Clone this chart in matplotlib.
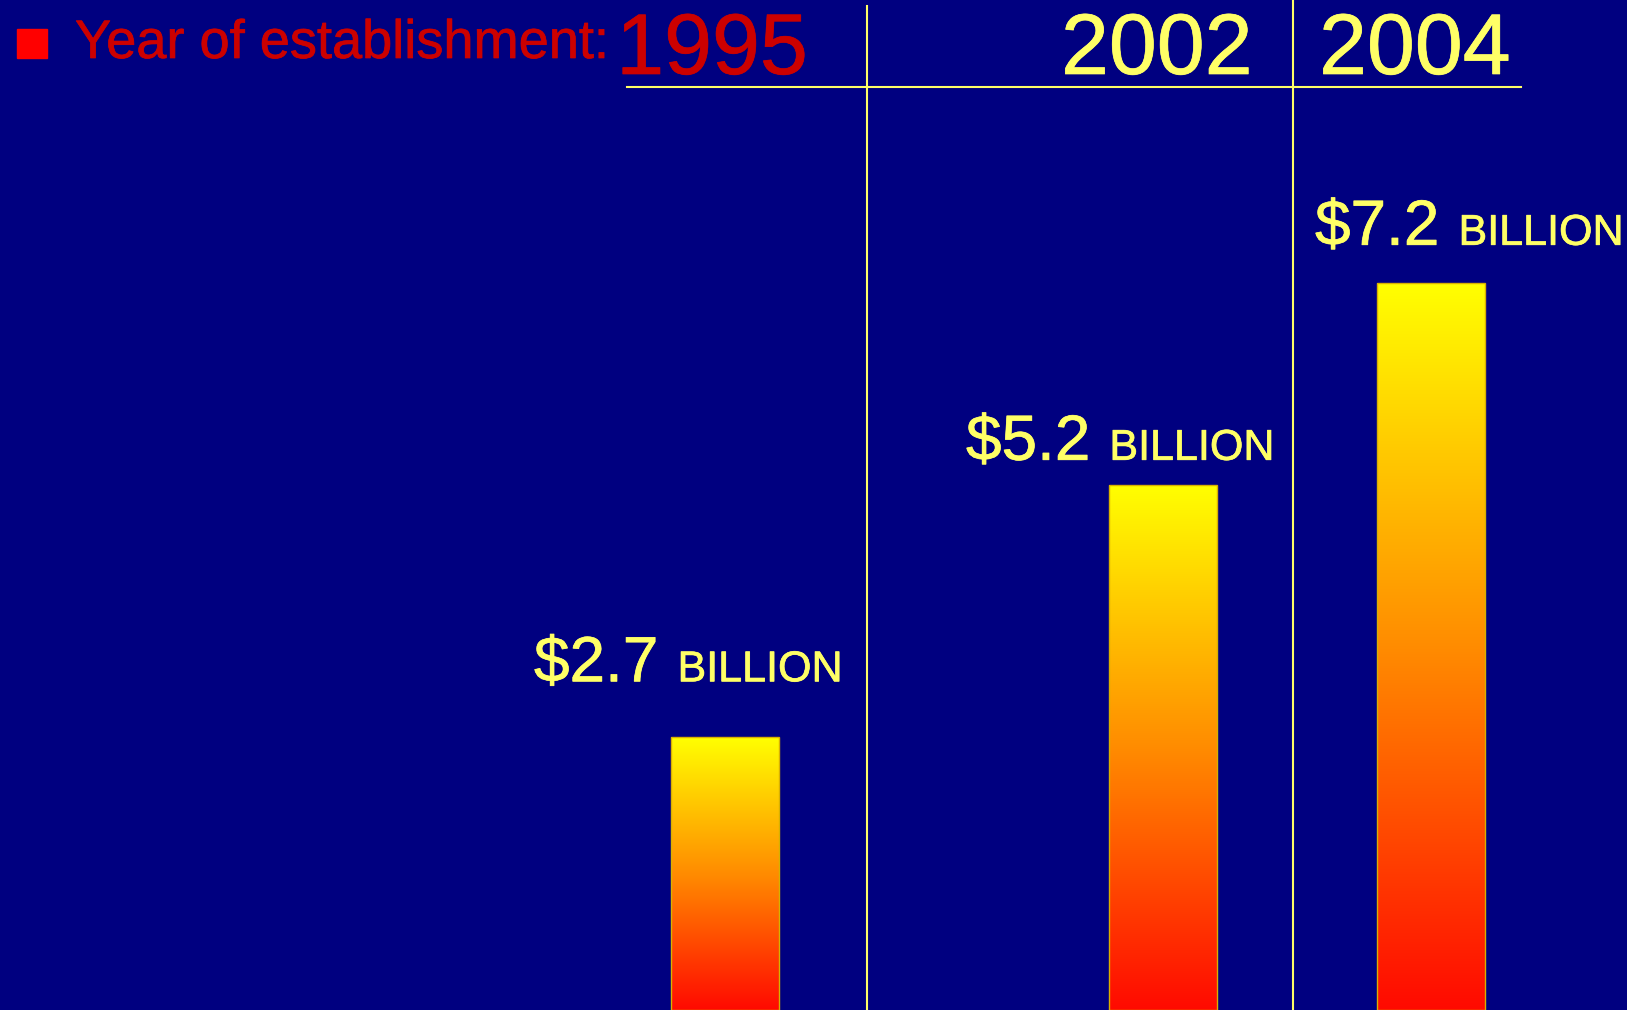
import numpy as np
import matplotlib.pyplot as plt
import matplotlib.patheffects as pe
from matplotlib.colors import LinearSegmentedColormap
from matplotlib.patches import Rectangle
from matplotlib.lines import Line2D

# funding per period, in billions of dollars
years = ["1995", "2002", "2004"]
amounts = [2.7, 5.2, 7.2]
amount_labels = ["$2.7", "$5.2", "$7.2"]
unit_label = "BILLION"
heading = "Year of establishment:"

W, H = 1627, 1010
navy = "#000080"
pale_yellow = "#FFFF66"
dark_red = "#CC0000"

# layout (pixel units, measured from the top-left corner)
bar_centers = [725, 1163.5, 1431]
bar_width = 108
label_x = [534, 966, 1315]
label_gap = [56, 25, 38]
year_x = [712, 1157, 1415]

plt.rcParams['font.family'] = ['Liberation Sans', 'DejaVu Sans']


def heavy(c):
    return [pe.withStroke(linewidth=0.5, foreground=c)]


fig = plt.figure(figsize=(W / 100, H / 100), dpi=100)
fig.patch.set_facecolor(navy)
ax = fig.add_axes([0, 0, 1, 1])
ax.set_facecolor(navy)
ax.axis("off")

ymax = 10.0
px_per_unit = H / ymax

grad = LinearSegmentedColormap.from_list(
    "fire", [(0, "#FF0A00"), (0.5, "#FF8C00"), (1, "#FFFF00")])

for xc, v in zip(bar_centers, amounts):
    x0 = xc - bar_width / 2
    rect = Rectangle((x0, 0), bar_width, v, facecolor="none",
                     edgecolor="#D8B000", linewidth=1, zorder=3)
    ax.add_patch(rect)
    img = ax.imshow(np.linspace(0, 1, 256).reshape(-1, 1), cmap=grad,
                    origin="lower", aspect="auto",
                    extent=[x0, x0 + bar_width, 0, v], zorder=2)
    img.set_clip_path(rect)

ax.set_xlim(0, W)
ax.set_ylim(0, ymax)

# value labels: large amount, smaller unit word beside it
big = []
for lx, v, gap, txt in zip(label_x, amounts, label_gap, amount_labels):
    y = v + gap / px_per_unit
    t = ax.text(lx, y, txt, fontsize=46, color=pale_yellow,
                ha="left", va="baseline", path_effects=heavy(pale_yellow))
    big.append((t, y))

fig.canvas.draw()
for t, y in big:
    bb = t.get_window_extent()
    ax.text(bb.x1 + 19, y, unit_label, fontsize=31, color=pale_yellow,
            ha="left", va="baseline", path_effects=heavy(pale_yellow))

# header row with the years
def fx(x):
    return x / W


def fy(y):
    return 1 - y / H


fig.add_artist(Rectangle((fx(17), fy(58)), 30 / W, 29 / H,
                         transform=fig.transFigure, color="#FF0000"))
fig.text(fx(75), fy(58), heading, fontsize=39, color=dark_red,
         ha="left", va="baseline", path_effects=heavy(dark_red))

year_colors = [dark_red, pale_yellow, pale_yellow]
for xc, yr, c in zip(year_x, years, year_colors):
    fig.text(fx(xc), fy(74), yr, fontsize=62, color=c,
             ha="center", va="baseline", path_effects=heavy(c))

fig.add_artist(Line2D([fx(627), fx(1521)], [fy(87), fy(87)],
                      transform=fig.transFigure, color=pale_yellow, lw=1.5))
fig.add_artist(Line2D([fx(867), fx(867)], [fy(6), 0],
                      transform=fig.transFigure, color=pale_yellow, lw=1.5))
fig.add_artist(Line2D([fx(1293), fx(1293)], [1, 0],
                      transform=fig.transFigure, color=pale_yellow, lw=1.5))

fig.savefig("out.png", dpi=100, facecolor=navy)
